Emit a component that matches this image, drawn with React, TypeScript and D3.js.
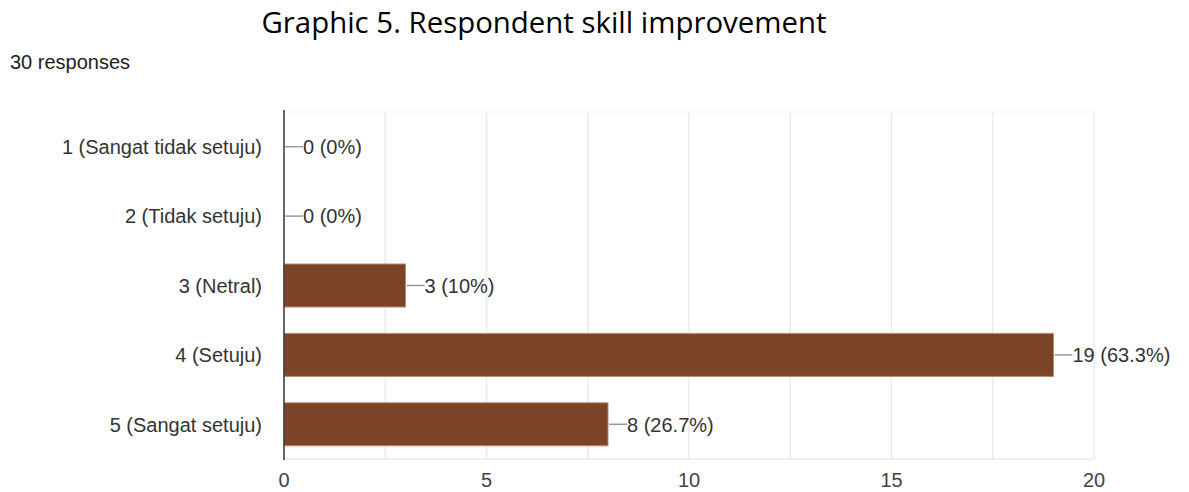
import React, { useEffect, useRef } from 'react';
import * as d3 from 'd3';

const categories = ['1 (Sangat tidak setuju)', '2 (Tidak setuju)', '3 (Netral)', '4 (Setuju)', '5 (Sangat setuju)'];
const counts = [0, 0, 3, 19, 8];
const percents = ['0%', '0%', '10%', '63.3%', '26.7%'];
const xTicks = [0, 5, 10, 15, 20];
const minorTicks = [2.5, 7.5, 12.5, 17.5];

const FONT = '"Liberation Sans", Arial, sans-serif';

const App = () => {
  const ref = useRef<SVGSVGElement | null>(null);
  const width = 1189;
  const height = 492;

  useEffect(() => {
    const svg = d3.select(ref.current);
    svg.selectAll('*').remove();

    const x = d3.scaleLinear().domain([0, 20]).range([284, 1094]);
    const y = d3.scaleBand().domain(categories).range([112, 459]).paddingInner(0.38).paddingOuter(0.19);

    // title
    svg.append('text')
      .attr('x', 544)
      .attr('y', 33)
      .attr('text-anchor', 'middle')
      .style('font-family', '"Open Sans", sans-serif')
      .style('font-size', '29.4px')
      .style('fill', '#000')
      .text('Graphic 5. Respondent skill improvement');

    svg.append('text')
      .attr('x', 10)
      .attr('y', 69)
      .style('font-family', FONT)
      .style('font-size', '20px')
      .style('fill', '#212121')
      .text('30 responses');

    // grid
    const grid = [...xTicks, ...minorTicks].filter(d => d > 0);
    svg.append('g').selectAll('line')
      .data(grid)
      .enter().append('line')
      .attr('x1', d => x(d)).attr('x2', d => x(d))
      .attr('y1', 112).attr('y2', 459)
      .style('stroke', '#ebebeb')
      .style('stroke-width', 1.5);

    svg.append('line')
      .attr('x1', 284).attr('x2', 1094)
      .attr('y1', 459).attr('y2', 459)
      .style('stroke', '#ebebeb')
      .style('stroke-width', 1.5);

    svg.append('line')
      .attr('x1', 284).attr('x2', 1094)
      .attr('y1', 112).attr('y2', 112)
      .style('stroke', '#f2f2f2')
      .style('stroke-width', 1);

    // bars
    svg.append('g').selectAll('rect')
      .data(counts)
      .enter().append('rect')
      .attr('x', x(0))
      .attr('y', (d, i) => y(categories[i]) as number)
      .attr('width', d => x(d) - x(0))
      .attr('height', y.bandwidth())
      .style('fill', '#7b4427')
      .style('stroke', '#b88d78')
      .style('stroke-width', d => (d > 0 ? 1 : 0));

    // axis line
    svg.append('line')
      .attr('x1', 284).attr('x2', 284)
      .attr('y1', 110).attr('y2', 460)
      .style('stroke', '#333')
      .style('stroke-width', 1.5);

    // leader lines + labels
    const labels = svg.append('g');
    counts.forEach((d, i) => {
      const cy = (y(categories[i]) as number) + y.bandwidth() / 2;
      labels.append('line')
        .attr('x1', x(d) + 1).attr('x2', x(d) + 19)
        .attr('y1', cy).attr('y2', cy)
        .style('stroke', '#999')
        .style('stroke-width', 1.5);
      labels.append('text')
        .attr('x', x(d) + 19)
        .attr('y', cy)
        .attr('dy', '0.36em')
        .style('font-family', FONT)
        .style('font-size', '20px')
        .style('fill', '#333')
        .text(`${d} (${percents[i]})`);
      svg.append('text')
        .attr('x', 262)
        .attr('y', cy)
        .attr('dy', '0.36em')
        .attr('text-anchor', 'end')
        .style('font-family', FONT)
        .style('font-size', '20px')
        .style('fill', '#333')
        .text(categories[i]);
    });

    svg.append('g').selectAll('text')
      .data(xTicks)
      .enter().append('text')
      .attr('x', d => x(d))
      .attr('y', 487)
      .attr('text-anchor', 'middle')
      .style('font-family', FONT)
      .style('font-size', '20px')
      .style('fill', '#444')
      .text(d => d);
  }, []);

  return (
    <svg ref={ref} width={width} height={height} style={{ position: 'absolute', left: 0, top: 0, background: '#fff' }}></svg>
  );
};

export default App;
